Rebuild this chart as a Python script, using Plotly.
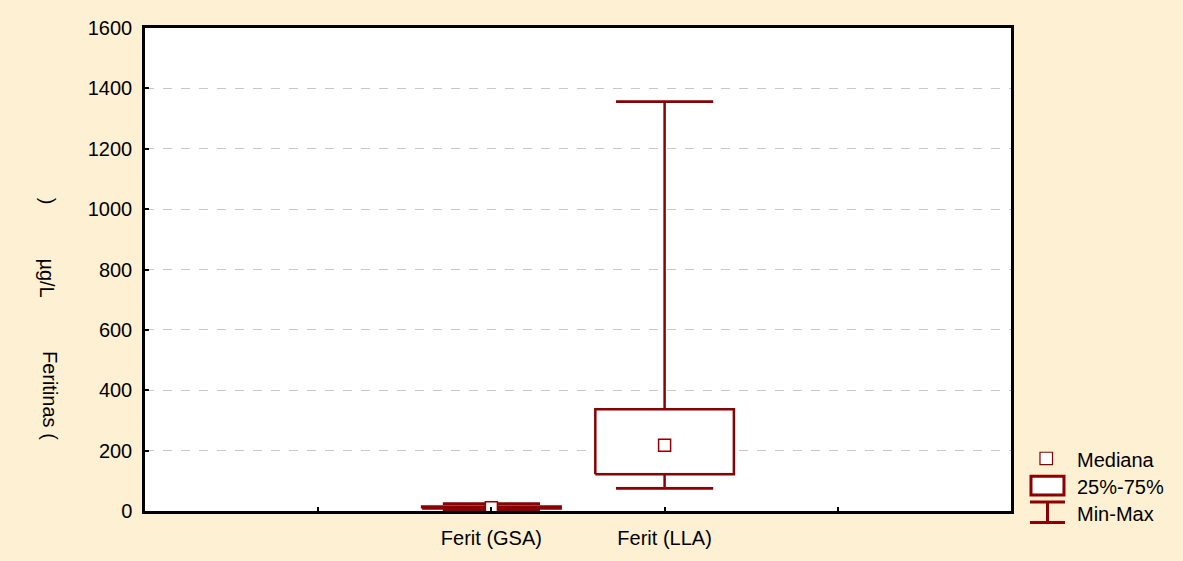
import plotly.graph_objects as go

# ---- data ----
categories = ["Ferit (GSA)", "Ferit (LLA)"]
minimum = [3, 75]
q1 = [8, 122]
median = [11, 218]
q3 = [15, 337]
maximum = [24, 1356]

y_ticks = [0, 200, 400, 600, 800, 1000, 1200, 1400, 1600]
legend_labels = ["Mediana", "25%-75%", "Min-Max"]

# ---- style ----
W, H = 1183, 561
ML, MR, MT, MB = 144.5, 172, 28, 48
RED = "rgb(139,0,0)"
BG = "rgb(254,240,210)"
FONT = "Liberation Sans, Arial, sans-serif"
FS = 20
BOX_HW = 0.40
CAP_HW = 0.28

fig = go.Figure()
xs = list(range(len(categories)))

# whiskers (vertical) and caps
for i, c in enumerate(xs):
    fig.add_trace(go.Scatter(
        x=[c, c, None, c - CAP_HW, c + CAP_HW, None, c - CAP_HW, c + CAP_HW],
        y=[minimum[i], maximum[i], None, minimum[i], minimum[i], None, maximum[i], maximum[i]],
        mode="lines", line=dict(color=RED, width=2.5), hoverinfo="skip", showlegend=False))
# boxes
for i, c in enumerate(xs):
    fig.add_trace(go.Scatter(
        x=[c - BOX_HW, c + BOX_HW, c + BOX_HW, c - BOX_HW, c - BOX_HW],
        y=[q1[i], q1[i], q3[i], q3[i], q1[i]],
        mode="lines", fill="toself", fillcolor="white",
        line=dict(color=RED, width=2.5), hoverinfo="skip", showlegend=False))
# caps on top for small boxes
for i, c in enumerate(xs):
    fig.add_trace(go.Scatter(
        x=[c - CAP_HW, c + CAP_HW, None, c - CAP_HW, c + CAP_HW],
        y=[minimum[i], minimum[i], None, maximum[i], maximum[i]],
        mode="lines", line=dict(color=RED, width=2.5), hoverinfo="skip", showlegend=False))
# medians
fig.add_trace(go.Scatter(
    x=xs, y=median, mode="markers",
    marker=dict(symbol="square", size=12, color="white", line=dict(color=RED, width=1.5)),
    hoverinfo="skip", showlegend=False))

# ---- helpers for pixel -> paper coords (legend layout) ----
PW = W - ML - MR
PH = H - MT - MB
def px(x):
    return (x - ML) / PW
def py(y):
    return (H - MB - y) / PH

shapes = []
annotations = []
# Mediana symbol
shapes.append(dict(type="rect", xref="paper", yref="paper",
                   x0=px(1040), x1=px(1052.5), y0=py(466.5), y1=py(454),
                   line=dict(color=RED, width=1.2), fillcolor="white"))
# 25%-75% symbol
shapes.append(dict(type="rect", xref="paper", yref="paper",
                   x0=px(1031), x1=px(1064), y0=py(497), y1=py(478),
                   line=dict(color=RED, width=3), fillcolor="white"))
# Min-Max symbol
for (x0, y0, x1, y1) in [(1030, 504, 1065, 504), (1030, 524.5, 1065, 524.5), (1047.5, 504, 1047.5, 524.5)]:
    shapes.append(dict(type="line", xref="paper", yref="paper",
                       x0=px(x0), x1=px(x1), y0=py(y0), y1=py(y1),
                       line=dict(color=RED, width=3)))
for lab, yy in zip(legend_labels, [461.5, 489, 516]):
    annotations.append(dict(text=lab, xref="paper", yref="paper", x=px(1075), y=py(yy),
                            xanchor="left", yanchor="middle", showarrow=False,
                            font=dict(family=FONT, size=FS, color="black")))

# y-axis title pieces (rotated, reading top to bottom)
for txt, yy, xx in [("Feritinas (", 397, 49), ("µg/L", 279, 46), (")", 202, 47)]:
    annotations.append(dict(text=txt, xref="paper", yref="paper", x=px(xx), y=py(yy),
                            xanchor="center", yanchor="middle", textangle=90, showarrow=False,
                            font=dict(family=FONT, size=FS, color="black")))

fig.update_layout(
    width=W, height=H,
    margin=dict(l=ML, r=MR, t=MT, b=MB, pad=0),
    paper_bgcolor=BG, plot_bgcolor="white",
    font=dict(family=FONT, size=FS, color="black"),
    shapes=shapes, annotations=annotations,
    showlegend=False,
)
fig.update_xaxes(
    range=[-2, 3], tickvals=[-1, 0, 1, 2], ticktext=["", categories[0], categories[1], ""],
    ticks="inside", ticklen=4, tickwidth=1.5, tickcolor="black",
    showline=True, linecolor="black", linewidth=2.5, mirror=True,
    showgrid=False, zeroline=False, ticklabelstandoff=7,
    tickfont=dict(family=FONT, size=FS))
fig.update_yaxes(
    range=[0, 1600], tickvals=y_ticks,
    ticks="inside", ticklen=4, tickwidth=1.5, tickcolor="black",
    showline=True, linecolor="black", linewidth=2.5, mirror=True,
    showgrid=True, gridcolor="rgb(200,200,200)", gridwidth=1, griddash="dash",
    zeroline=False, ticklabelstandoff=6,
    tickfont=dict(family=FONT, size=FS))

fig.write_html("out.html")
